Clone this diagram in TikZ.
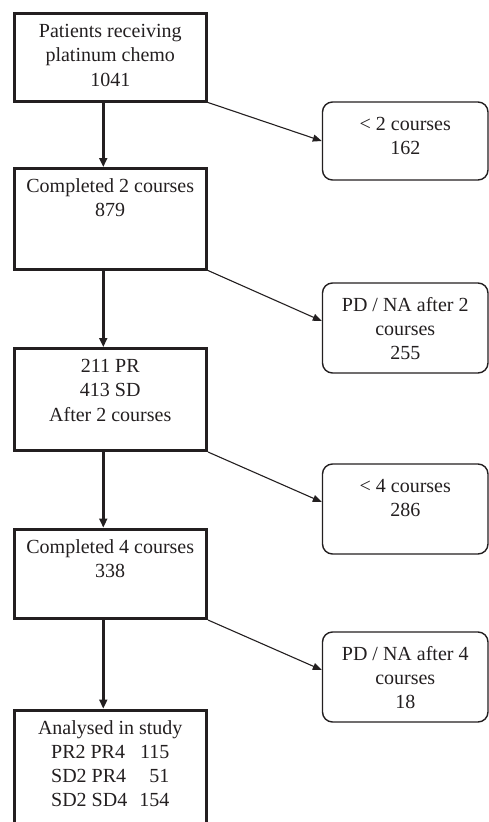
\documentclass[tikz,border=0pt]{standalone}
\usepackage{fontspec}
\setmainfont{Liberation Serif}
\usetikzlibrary{arrows.meta}
\definecolor{ink}{RGB}{35,31,32}
\newcommand{\lefttext}[2]{\parbox[b][#1][t]{192.5pt}{\centering\rule{0pt}{24pt}#2}}
\newcommand{\righttext}[2]{\parbox[b][#1][t]{165.5pt}{\centering\rule{0pt}{28pt}#2}}

\begin{document}
\begin{tikzpicture}[x=1pt,y=-1pt,
  font=\fontsize{20}{24.3}\selectfont,
  stage/.style={draw=ink,line width=3pt,inner sep=0pt,text=ink},
  outbox/.style={draw=ink,line width=1.4pt,rounded corners=10pt,inner sep=0pt,text=ink},
  down/.style={draw=ink,line width=3pt,-{Triangle[length=9pt,width=8pt]}},
  side/.style={draw=ink,line width=1.1pt,-{Triangle[length=9pt,width=7pt]}}]
\useasboundingbox (0,0) rectangle (489,822);
\clip (0,0) rectangle (489,822);

% main stages
\node[stage] (b1) at (110.25,57.25) {\lefttext{87.5pt}{Patients receiving\\platinum chemo\\1041}};
\node[stage] (b2) at (110.25,218.75) {\lefttext{100.5pt}{Completed 2 courses\\879}};
\node[stage] (b3) at (110.25,399.5) {\lefttext{102pt}{211 PR\\413 SD\\After 2 courses}};
\node[stage] (b4) at (110.25,573.75) {\lefttext{89.5pt}{Completed 4 courses\\338}};
\node[stage] (b5) at (110.25,775) {\lefttext{130pt}{Analysed in study\\
  \begin{tabular}[t]{@{}l@{\hspace{12pt}}r@{}}PR2 PR4&115\\SD2 PR4&51\\SD2 SD4&154\end{tabular}}};

% excluded
\node[outbox] (r1) at (405.25,141) {\righttext{78pt}{< 2 courses\\162}};
\node[outbox] (r2) at (405.25,328) {\righttext{90pt}{PD / NA after 2\\courses\\255}};
\node[outbox] (r3) at (405.25,509) {\righttext{90pt}{< 4 courses\\286}};
\node[outbox] (r4) at (405.25,677) {\righttext{90pt}{PD / NA after 4\\courses\\18}};

\draw[down] ([xshift=-7pt]b1.south) -- ([xshift=-7pt]b2.north);
\draw[down] ([xshift=-7pt]b2.south) -- ([xshift=-7pt]b3.north);
\draw[down] ([xshift=-7pt]b3.south) -- ([xshift=-7pt]b4.north);
\draw[down] ([xshift=-7pt]b4.south) -- ([xshift=-7pt]b5.north);

\draw[side] (b1.south east) -- (r1.west);
\draw[side] (b2.south east) -- ([yshift=7pt]r2.west);
\draw[side] (b3.south east) -- ([yshift=7pt]r3.west);
\draw[side] (b4.south east) -- ([yshift=7pt]r4.west);
\end{tikzpicture}
\end{document}
